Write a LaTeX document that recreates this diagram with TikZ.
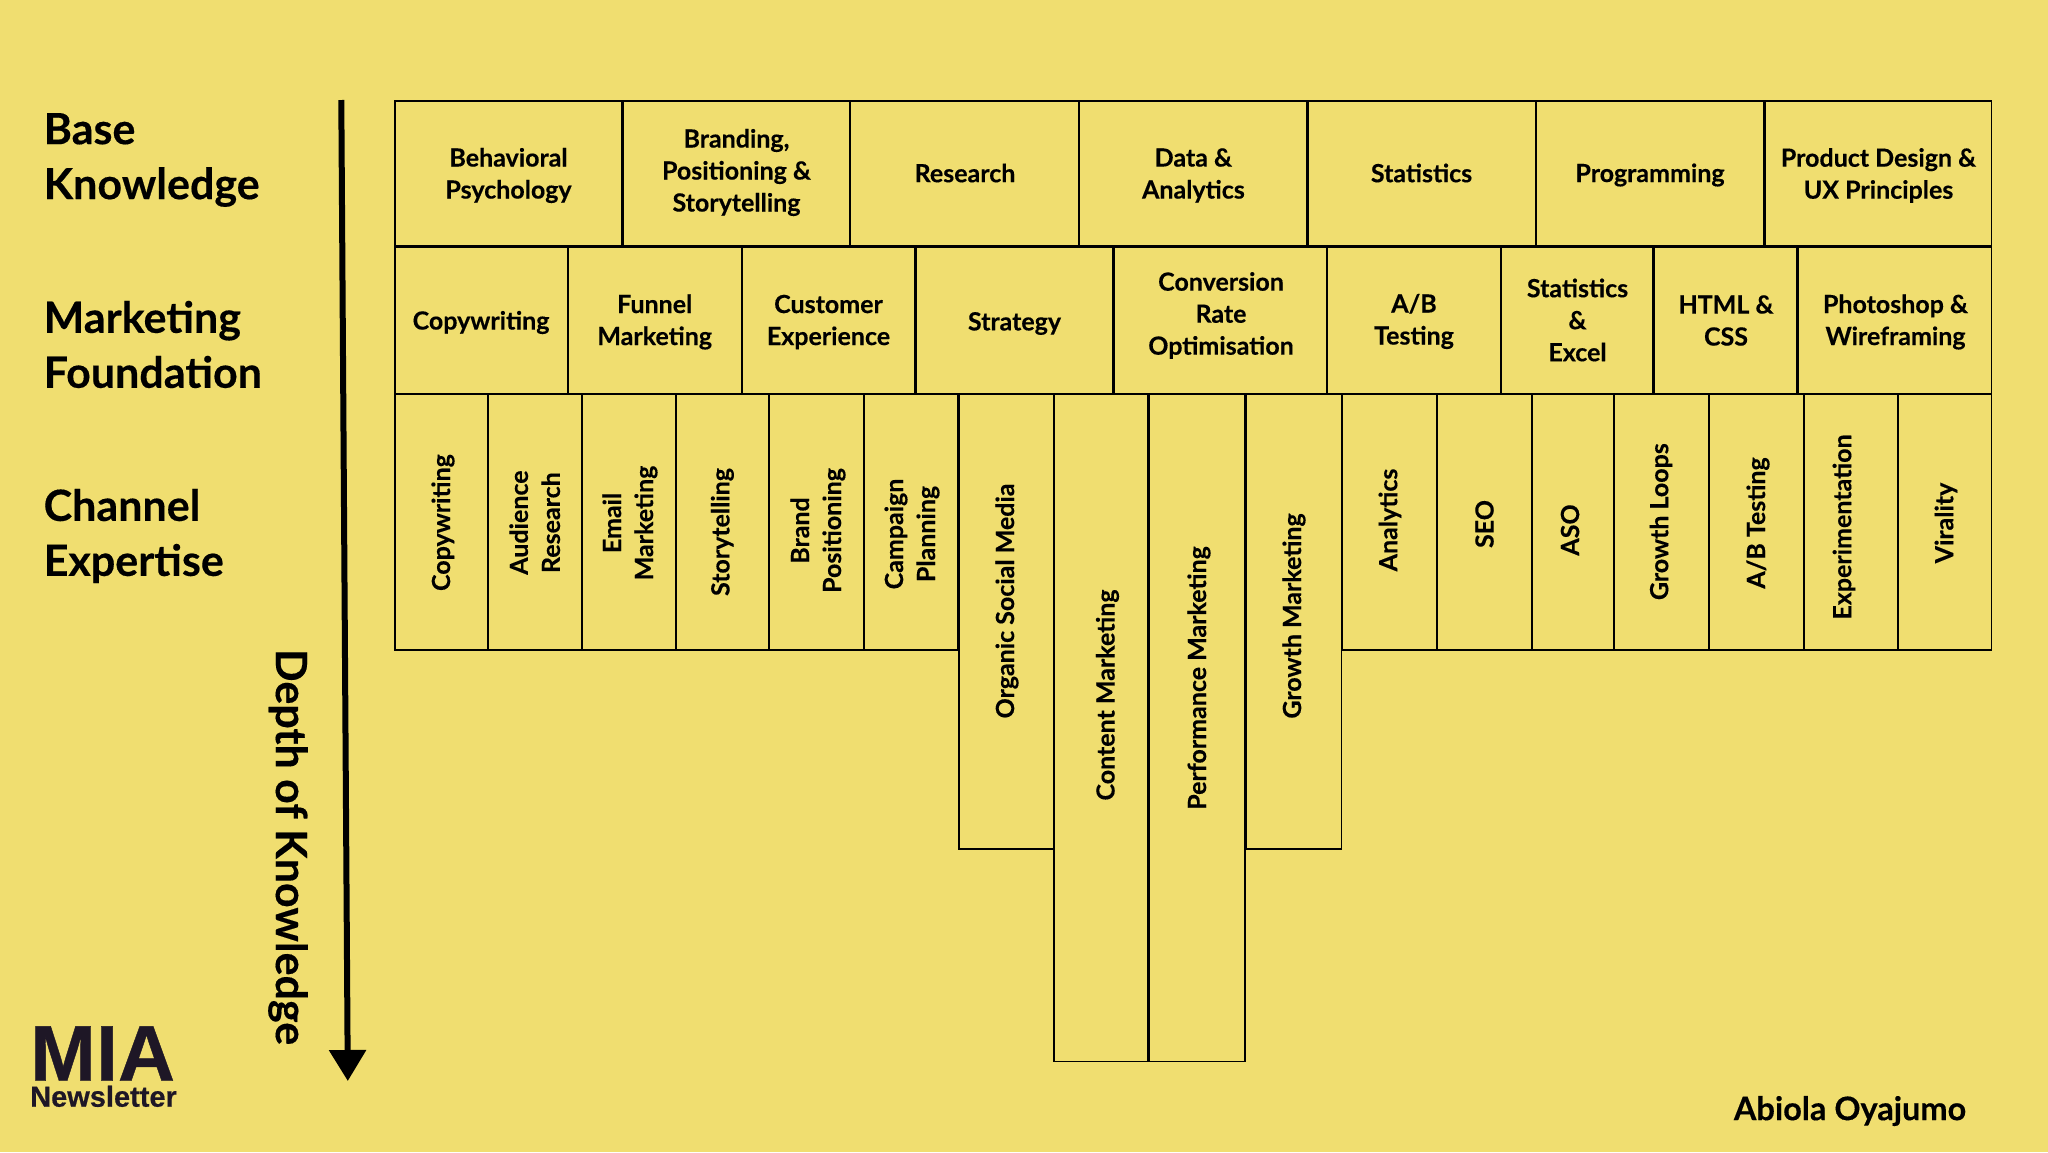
\documentclass[tikz,border=0pt]{standalone}
\usepackage{fontspec}
\setmainfont{Lato}[BoldFont={Lato Bold},BoldFeatures={FakeBold=0.35}]
\newfontfamily\logofont{Liberation Sans}[BoldFeatures={FakeBold=0.5}]
\usetikzlibrary{arrows.meta}
\definecolor{bgyellow}{HTML}{F0DE70}
\definecolor{logoink}{HTML}{1E1726}
\tikzset{
  cellbox/.style={draw=black,line width=1.5pt,inner sep=0pt,outer sep=0pt},
  celltext/.style={font=\fontsize{25}{32}\selectfont\bfseries,align=center,inner sep=0pt,text=black},
  vtext/.style={celltext,rotate=90},
  sidelabel/.style={font=\fontsize{43}{55}\selectfont\bfseries,align=left,anchor=west,inner sep=0pt,text=black},
}
\newcommand{\cellb}[5]{\node[cellbox,minimum width={#3-#2-0.8},minimum height={#5-#4-0.8}] (#1) at ({(#2+#3)/2},{(#4+#5)/2}) {};}
\begin{document}
\begin{tikzpicture}[x=1pt,y=-1pt]
\useasboundingbox[fill=bgyellow] (0,0) rectangle (2048,1152);
% row 1
\cellb{a1}{394.5}{622.5}{100.5}{246.5}
\cellb{a2}{622.5}{850}{100.5}{246.5}
\cellb{a3}{850}{1079.3}{100.5}{246.5}
\cellb{a4}{1079.3}{1307.4}{100.5}{246.5}
\cellb{a5}{1307.4}{1536}{100.5}{246.5}
\cellb{a6}{1536}{1764.6}{100.5}{246.5}
\cellb{a7}{1764.6}{1992}{100.5}{246.5}
\node[celltext] (ta1) at (508.5,175.5) {Behavioral\\Psychology};
\node[celltext] (ta2) at (736.5,172.5) {Branding,\\Positioning \&\\Storytelling};
\node[celltext] (ta3) at (965,173) {Research};
\node[celltext] (ta4) at (1193.4,175.5) {Data \&\\Analytics};
\node[celltext] (ta5) at (1421.5,173) {Statistics};
\node[celltext] (ta6) at (1650,175) {Programming};
\node[celltext] (ta7) at (1878.5,175.5) {Product Design \&\\UX Principles};
% row 2
\cellb{b1}{394.5}{567.7}{246.5}{394}
\cellb{b2}{567.7}{741.7}{246.5}{394}
\cellb{b3}{741.7}{915.5}{246.5}{394}
\cellb{b4}{915.5}{1113.4}{246.5}{394}
\cellb{b5}{1113.4}{1327.3}{246.5}{394}
\cellb{b6}{1327.3}{1501}{246.5}{394}
\cellb{b7}{1501}{1653.6}{246.5}{394}
\cellb{b8}{1653.6}{1797.5}{246.5}{394}
\cellb{b9}{1797.5}{1992}{246.5}{394}
\node[celltext] (tb1) at (481,322.5) {Copywriting};
\node[celltext] (tb2) at (654.7,322) {Funnel\\Marketing};
\node[celltext] (tb3) at (828.5,322) {Customer\\Experience};
\node[celltext] (tb4) at (1014.5,323.5) {Strategy};
\node[celltext] (tb5) at (1221,315.5) {Conversion\\Rate\\Optimisation};
\node[celltext] (tb6) at (1414,321.5) {A/B\\Testing};
\node[celltext] (tb7) at (1577.5,320) {Statistics\\\&\\Excel};
\node[celltext] (tb8) at (1726,320.5) {HTML \&\\CSS};
\node[celltext] (tb9) at (1895.5,322) {Photoshop \&\\Wireframing};
% row 3
\cellb{c1}{394.5}{488}{394}{650.5}
\cellb{c2}{488}{581.7}{394}{650.5}
\cellb{c3}{581.7}{675.8}{394}{650.5}
\cellb{c4}{675.8}{768.8}{394}{650.5}
\cellb{c5}{768.8}{864}{394}{650.5}
\cellb{c6}{864}{958.6}{394}{650.5}
\cellb{c7}{958.6}{1053.7}{394}{849.5}
\cellb{c8}{1053.7}{1148.4}{394}{1062}
\cellb{c9}{1148.4}{1245.4}{394}{1062}
\cellb{c10}{1245.4}{1341.8}{394}{849.5}
\cellb{c11}{1341.8}{1436.7}{394}{650.5}
\cellb{c12}{1436.7}{1531.8}{394}{650.5}
\cellb{c13}{1531.8}{1614}{394}{650.5}
\cellb{c14}{1614}{1708.7}{394}{650.5}
\cellb{c15}{1708.7}{1803.7}{394}{650.5}
\cellb{c16}{1803.7}{1898}{394}{650.5}
\cellb{c17}{1898}{1992}{394}{650.5}
\node[vtext] (tc1) at (443,522.6) {Copywriting};
\node[vtext] (tc2) at (534.7,522.6) {Audience\\Research};
\node[vtext] (tc3) at (630,523) {Email\\Marketing};
\node[vtext] (tc4) at (722.4,532) {Storytelling};
\node[vtext] (tc5) at (818,530.5) {Brand\\Positioning};
\node[vtext] (tc6) at (912,534) {Campaign\\Planning};
\node[vtext] (tc7) at (1007,601) {Organic Social Media};
\node[vtext] (tc8) at (1107.5,695) {Content Marketing};
\node[vtext] (tc9) at (1199,678) {Performance Marketing};
\node[vtext] (tc10) at (1294,616) {Growth Marketing};
\node[vtext] (tc11) at (1390,520) {Analytics};
\node[vtext] (tc12) at (1484.5,524) {SEO};
\node[vtext] (tc13) at (1570,530) {ASO};
\node[vtext] (tc14) at (1661,521.7) {Growth Loops};
\node[vtext] (tc15) at (1758,523) {A/B Testing};
\node[vtext] (tc16) at (1844,527) {Experimentation};
\node[vtext] (tc17) at (1946,523) {Virality};
% side labels
\node[sidelabel] (base) at (43.5,160) {Base\\Knowledge};
\node[sidelabel] (found) at (43.5,344.5) {Marketing\\Foundation};
\node[sidelabel] (chan) at (43.5,536) {Channel\\Expertise};
\node[font=\fontsize{43}{50}\selectfont\bfseries,rotate=-90,inner sep=0pt] (depth) at (288,847) {Depth of Knowledge};
% arrow
\coordinate (arrowtop) at (341.3,100);
\coordinate (arrowend) at (347.8,1081);
\draw[line width=6pt,-{Triangle[length=31pt,width=36pt]}] (arrowtop) -- (arrowend);
% logo
\node[font=\logofont\fontsize{79}{79}\selectfont\bfseries,text=logoink,inner sep=0pt,text depth=0pt,anchor=base west] (mia) at (30,1080.7) {MIA};
\node[font=\logofont\fontsize{29}{30}\selectfont\bfseries,text=logoink,inner sep=0pt,anchor=base west] (news) at (30,1106.7) {Newsletter};
\node[font=\fontsize{32.5}{36}\selectfont\bfseries,inner sep=0pt] (author) at (1850,1111) {Abiola Oyajumo};
\end{tikzpicture}
\end{document}
